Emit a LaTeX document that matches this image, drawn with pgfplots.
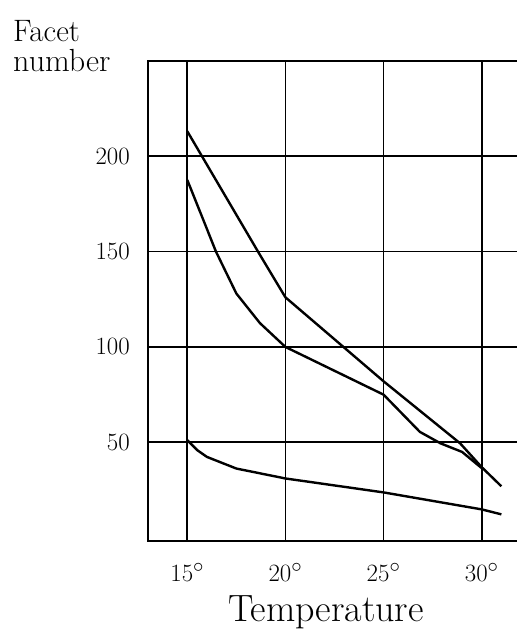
\documentclass[border=0pt]{standalone}
\usepackage{pgfplots}
\pgfplotsset{compat=1.18}
\begin{document}
\begin{tikzpicture}
\useasboundingbox (0pt,0pt) rectangle (517pt,633pt);
\begin{axis}[
  at={(148pt,92.3pt)}, anchor=south west,
  scale only axis, width=373pt, height=480.1pt,
  xmin=13, xmax=32, ymin=-1.5, ymax=250,
  xtick={15,20,25,30},
  xticklabels={$15^\circ$,$20^\circ$,$25^\circ$,$30^\circ$},
  ytick={50,100,150,200},
  major tick length=0pt,
  grid=major,
  major grid style={black, line width=1.8pt},
  axis line style={black, line width=2pt},
  xticklabel style={font=\fontsize{28}{28}\selectfont, anchor=base, inner sep=0pt, yshift=-41pt},
  yticklabel style={font=\fontsize{27}{27}\selectfont, anchor=east, inner sep=0pt, xshift=-18pt},
  clip=false,
]
\addplot[black, line width=2.4pt, line join=round] coordinates {
  (15,213) (18.6,150) (20,126) (25,82) (28.9,49.5) (30,37) (31,27)};
\addplot[black, line width=2.4pt, line join=round] coordinates {
  (15,187.5) (15.8,167) (16.46,150) (17.5,128) (18.7,112.5) (20,100) (25,75) (26.85,55.5) (27.9,49.5) (29,45) (30,36.5)};
\addplot[black, line width=2.4pt, line join=round] coordinates {
  (15,51.2) (15.5,46) (16,42.4) (17.5,36.3) (20,31.1) (25,23.8) (30,14.9) (31,12.3)};
\end{axis}
\node[anchor=base west, inner sep=0pt, font=\fontsize{31}{31}\selectfont] at (13pt,591pt) {Facet};
\node[anchor=base west, inner sep=0pt, font=\fontsize{32}{32}\selectfont] at (13pt,561pt) {number};
\node[anchor=base, inner sep=0pt, font=\fontsize{38}{38}\selectfont] at (326pt,11pt) {Temperature};
\end{tikzpicture}
\end{document}
